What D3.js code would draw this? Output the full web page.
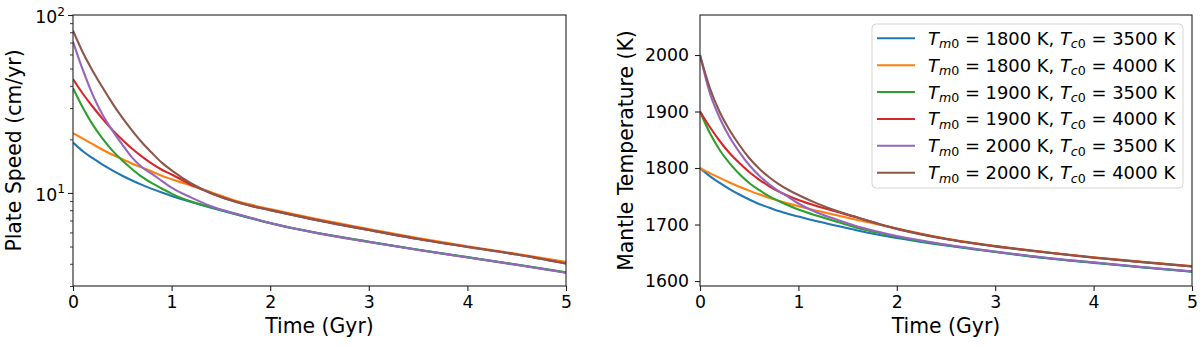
<!DOCTYPE html>
<html>
<head>
<meta charset="utf-8">
<script src="https://cdn.jsdelivr.net/npm/d3@7"></script>
<style>
  body { margin: 0; background: #fff; }
  text { font-family: "DejaVu Sans", sans-serif; fill: #000; }
</style>
</head>
<body>
<div id="chart"></div>
<script>
// time grid (Gyr)
const times = [0, 0.1, 0.2, 0.3, 0.4, 0.5, 0.6, 0.7, 0.8, 0.9, 1.0, 1.2, 1.4, 1.6, 1.8, 2.0, 2.5, 3.0, 3.5, 4.0, 4.5, 5.0];

// initial mantle / core temperatures of each run
const mantleStart = [1800, 1800, 1900, 1900, 2000, 2000];
const coreStart = [3500, 4000, 3500, 4000, 3500, 4000];
const colors = ['#1f77b4', '#ff7f0e', '#2ca02c', '#d62728', '#9467bd', '#8c564b'];

// plate speed (cm/yr)
const speedA = [19.2, 17.16, 15.68, 14.43, 13.39, 12.50, 11.75, 11.10, 10.54, 10.05, 9.62, 8.89, 8.27, 7.72, 7.22, 6.76, 5.92, 5.31, 4.79, 4.35, 3.95, 3.57];
const speedB = [21.7, 20.2, 18.8, 17.5, 16.4, 15.5, 14.6, 13.9, 13.2, 12.5, 11.95, 10.99, 10.1, 9.23, 8.60, 8.11, 7.08, 6.27, 5.58, 5.02, 4.55, 4.10];
const speedC = [38.8, 30.1, 24.2, 20.2, 17.3, 15.2, 13.6, 12.3, 11.35, 10.6, 9.91, 8.94, 8.30, 7.75, 7.24, 6.77, 5.93, 5.32, 4.80, 4.36, 3.96, 3.58];
const speedD = [43.6, 36.1, 30.5, 26.1, 22.6, 19.9, 17.7, 16.0, 14.6, 13.5, 12.7, 11.1, 9.97, 9.10, 8.47, 8.01, 6.99, 6.19, 5.51, 4.97, 4.51, 4.01];
const speedE = [70.8, 49.1, 35.6, 27.5, 22.4, 18.7, 15.8, 13.95, 12.8, 11.7, 10.7, 9.41, 8.43, 7.78, 7.26, 6.78, 5.91, 5.30, 4.78, 4.34, 3.94, 3.56];
const speedF = [81.7, 61.6, 48.5, 39.1, 31.9, 26.5, 22.4, 19.2, 16.8, 14.8, 13.4, 11.3, 9.97, 9.10, 8.47, 8.01, 6.99, 6.19, 5.51, 4.97, 4.51, 4.01];

// mantle temperature (K)
const tempA = [1800, 1785.8, 1773.5, 1762.8, 1753.1, 1744.2, 1736.3, 1730.1, 1723.9, 1718.6, 1714.2, 1705.3, 1697.3, 1689.4, 1682.3, 1676.1, 1662.8, 1651.3, 1640.7, 1632.2, 1623.9, 1616.3];
const tempB = [1800, 1791, 1782.5, 1774.5, 1767, 1760, 1753.5, 1747.5, 1742, 1737, 1732.5, 1724, 1715.8, 1708, 1700.5, 1693, 1675, 1662, 1651.5, 1642, 1634, 1626.5];
const tempC = [1900, 1861.9, 1831.9, 1808.8, 1789.4, 1773.5, 1761.1, 1750.4, 1741.6, 1733.6, 1726.5, 1715.0, 1704.4, 1693.8, 1685.8, 1678.2, 1663.7, 1651.9, 1641.2, 1632.7, 1624.4, 1616.8];
const tempD = [1900, 1872.6, 1847.8, 1826.5, 1808.8, 1792.9, 1779.6, 1768.1, 1758.4, 1750.4, 1743.4, 1731.9, 1722.1, 1712.3, 1701.8, 1692.3, 1674.3, 1661.3, 1650.8, 1641.3, 1633.3, 1625.8];
const tempE = [2000, 1932.7, 1888.5, 1854.9, 1828.3, 1805.3, 1786.7, 1771.7, 1759.3, 1748.7, 1737.2, 1720.4, 1708.0, 1696.5, 1687.6, 1679.6, 1664.6, 1652.2, 1641.6, 1633.1, 1624.8, 1617.2];
const tempF = [2000, 1941.6, 1899.1, 1867.3, 1840.7, 1817.7, 1799.1, 1784.1, 1771.7, 1761.1, 1752.2, 1736.5, 1723.5, 1712.5, 1702, 1692.5, 1674.5, 1661.5, 1651, 1641.5, 1633.5, 1626];

const speeds = [speedA, speedB, speedC, speedD, speedE, speedF];
const temps = [tempA, tempB, tempC, tempD, tempE, tempF];

const xTicks = [0, 1, 2, 3, 4, 5];
const speedMajor = [10, 100];
const speedMinor = [3, 4, 5, 6, 7, 8, 9, 20, 30, 40, 50, 60, 70, 80, 90];
const tempTicks = [1600, 1700, 1800, 1900, 2000];

const tickFont = 17.3, labelFont = 20.4, legendFont = 17.9;
const plotTop = 15, plotBottom = 286;

const svg = d3.select('#chart').append('svg')
  .attr('width', 1200).attr('height', 346);

// ---------- left panel: plate speed ----------
const x1 = d3.scaleLinear().domain([0, 5]).range([73, 566]);
const y1 = d3.scaleLog().domain([3, 100]).range([plotBottom, plotTop]);

// ---------- right panel: mantle temperature ----------
const x2 = d3.scaleLinear().domain([0, 5]).range([700, 1192]);
const y2 = d3.scaleLinear().domain([1591.2, 2070.8]).range([plotBottom, plotTop]);

function drawXAxis(x) {
  const g = svg.append('g').attr('transform', `translate(0,${plotBottom})`)
    .call(d3.axisBottom(x).tickValues(xTicks).tickSize(5).tickPadding(6).tickFormat(d3.format('d')));
  g.select('.domain').remove();
  g.selectAll('line').attr('stroke', '#222').attr('stroke-width', 1.1);
  g.selectAll('text').attr('font-size', tickFont).attr('font-family', 'DejaVu Sans').attr('dy', '0.71em').attr('y', 10);
}

function drawLines(x, y, data, clipId) {
  svg.append('clipPath').attr('id', clipId).append('rect')
    .attr('x', x.range()[0]).attr('y', plotTop)
    .attr('width', x.range()[1] - x.range()[0]).attr('height', plotBottom - plotTop);
  const line = d3.line()
    .x((d, i) => x(times[i]))
    .y(d => y(d))
    .curve(d3.curveMonotoneX);
  svg.append('g').attr('clip-path', `url(#${clipId})`)
    .selectAll('path').data(data).join('path')
    .attr('d', line)
    .attr('fill', 'none')
    .attr('stroke', (d, i) => colors[i])
    .attr('stroke-width', 2.1);
}

function drawFrame(x) {
  svg.append('rect')
    .attr('x', x.range()[0]).attr('y', plotTop)
    .attr('width', x.range()[1] - x.range()[0]).attr('height', plotBottom - plotTop)
    .attr('fill', 'none').attr('stroke', '#222').attr('stroke-width', 1.1);
}

// left panel
drawLines(x1, y1, speeds, 'clipL');
drawXAxis(x1);

const gMinor = svg.append('g').attr('transform', 'translate(73,0)')
  .call(d3.axisLeft(y1).tickValues(speedMinor).tickSize(3).tickFormat(''));
gMinor.select('.domain').remove();
gMinor.selectAll('line').attr('stroke', '#222').attr('stroke-width', 0.9);

const gMajor = svg.append('g').attr('transform', 'translate(73,0)')
  .call(d3.axisLeft(y1).tickValues(speedMajor).tickSize(5).tickFormat(''));
gMajor.select('.domain').remove();
gMajor.selectAll('line').attr('stroke', '#222').attr('stroke-width', 1.1);
gMajor.selectAll('.tick').each(function(d) {
  const t = d3.select(this).append('text')
    .attr('x', -8).attr('y', 7.5)
    .attr('text-anchor', 'end')
    .attr('font-size', tickFont);
  t.append('tspan').text('10');
  t.append('tspan').attr('font-size', 12.2).attr('dy', -7.5).text(Math.round(Math.log10(d)));
});

drawFrame(x1);

svg.append('text')
  .attr('x', (x1.range()[0] + x1.range()[1]) / 2).attr('y', 333)
  .attr('text-anchor', 'middle').attr('font-size', labelFont)
  .text('Time (Gyr)');
svg.append('text')
  .attr('transform', `translate(21,${(plotTop + plotBottom) / 2}) rotate(-90)`)
  .attr('text-anchor', 'middle').attr('font-size', labelFont)
  .text('Plate Speed (cm/yr)');

// right panel
drawLines(x2, y2, temps, 'clipR');
drawXAxis(x2);

const gTemp = svg.append('g').attr('transform', 'translate(700,0)')
  .call(d3.axisLeft(y2).tickValues(tempTicks).tickSize(5).tickPadding(6).tickFormat(d3.format('d')));
gTemp.select('.domain').remove();
gTemp.selectAll('line').attr('stroke', '#222').attr('stroke-width', 1.1);
gTemp.selectAll('text').attr('font-size', tickFont).attr('font-family', 'DejaVu Sans').attr('x', -11);

drawFrame(x2);

svg.append('text')
  .attr('x', (x2.range()[0] + x2.range()[1]) / 2).attr('y', 333)
  .attr('text-anchor', 'middle').attr('font-size', labelFont)
  .text('Time (Gyr)');
svg.append('text')
  .attr('transform', `translate(633,${(plotTop + plotBottom) / 2}) rotate(-90)`)
  .attr('text-anchor', 'middle').attr('font-size', labelFont)
  .text('Mantle Temperature (K)');

// legend
const legend = svg.append('g');
legend.append('rect')
  .attr('x', 872).attr('y', 24).attr('width', 311).attr('height', 164)
  .attr('rx', 4).attr('fill', '#fff').attr('fill-opacity', 0.85)
  .attr('stroke', '#d5d5d5').attr('stroke-width', 1);

const rowY = d3.scaleLinear().domain([0, 5]).range([38.3, 172.7]);
mantleStart.forEach((tm, i) => {
  const yy = rowY(i);
  legend.append('line')
    .attr('x1', 877).attr('x2', 915).attr('y1', yy).attr('y2', yy)
    .attr('stroke', colors[i]).attr('stroke-width', 2.1);
  const t = legend.append('text').attr('x', 928).attr('y', yy + 6.5).attr('font-size', legendFont);
  t.append('tspan').attr('font-style', 'italic').text('T');
  t.append('tspan').attr('font-style', 'italic').attr('font-size', 12.6).attr('dy', 3.6).text('m');
  t.append('tspan').attr('font-size', 12.6).text('0');
  t.append('tspan').attr('dy', -3.6).text(` = ${tm} K, `);
  t.append('tspan').attr('font-style', 'italic').text('T');
  t.append('tspan').attr('font-style', 'italic').attr('font-size', 12.6).attr('dy', 3.6).text('c');
  t.append('tspan').attr('font-size', 12.6).text('0');
  t.append('tspan').attr('dy', -3.6).text(` = ${coreStart[i]} K`);
});
</script>
</body>
</html>
